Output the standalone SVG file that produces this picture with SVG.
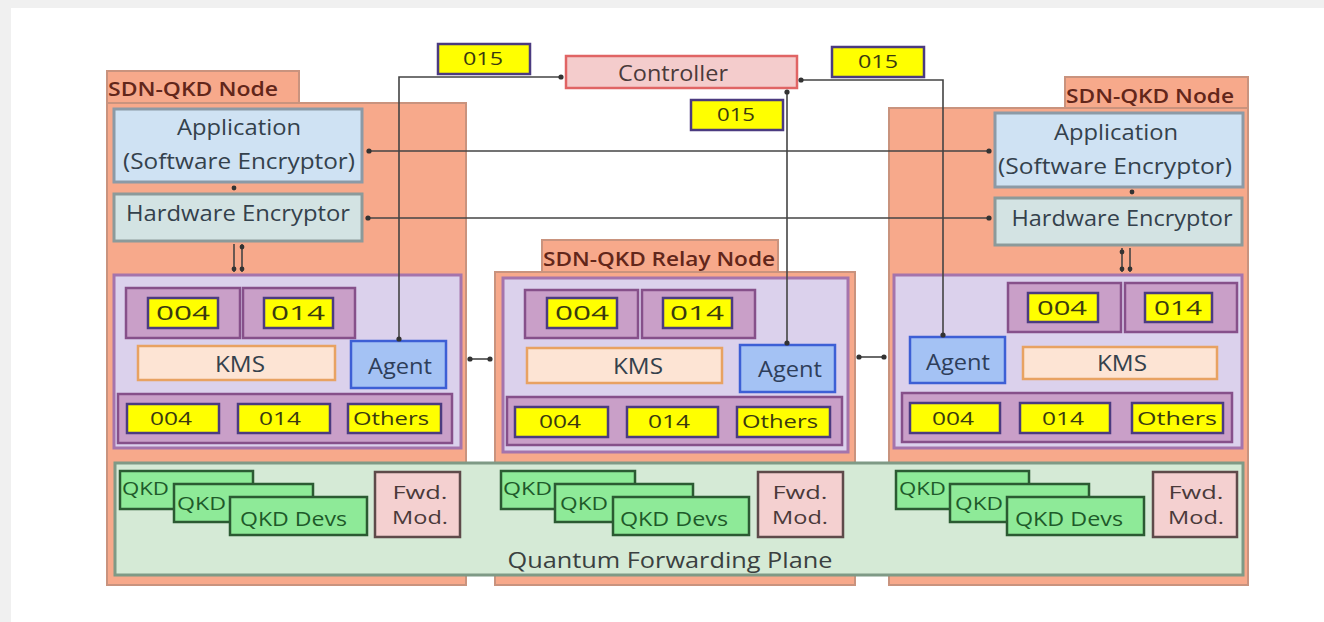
<svg xmlns="http://www.w3.org/2000/svg" width="1324" height="622" viewBox="0 0 1324 622">
  <style>
    text { font-family: "Open Sans", "Noto Sans", "DejaVu Sans", sans-serif; text-anchor: middle; dominant-baseline: central; fill: #3a3a3a; }
    .body { fill: #f7a98b; stroke: #c9937e; stroke-width: 2; }
    .tab { fill: #f7a98b; stroke: #c9937e; stroke-width: 2; }
    .tabtxt { font-size: 20px; font-weight: 600; fill: #62261a; }
    .app { fill: #cfe2f3; stroke: #8c9aa6; stroke-width: 3; }
    .hw { fill: #d3e3e3; stroke: #8c9a9a; stroke-width: 3; }
    .big { font-size: 21px; fill: #34414c; }
    .panel { fill: #dbd1ec; stroke: #a574ac; stroke-width: 3; }
    .cont { fill: #c99fc8; stroke: #86508a; stroke-width: 2.5; }
    .yel { fill: #ffff00; stroke: #4b3b80; stroke-width: 2.5; }
    .ytxt { font-size: 19px; fill: #3a3a10; }
    .ybig { font-size: 20px; fill: #3a3a10; }
    .kms { fill: #fde4d4; stroke: #e8a262; stroke-width: 2.5; }
    .agent { fill: #a4c2f4; stroke: #3d5fd5; stroke-width: 2.5; }
    .atxt { font-size: 21px; fill: #2e3e5a; }
    .ctrl { fill: #f4cccc; stroke: #e06464; stroke-width: 2.5; }
    .plane { fill: #d5ead6; stroke: #7f9a86; stroke-width: 3; }
    .qkd { fill: #8eea98; stroke: #2b5a32; stroke-width: 2.5; }
    .qtxt { font-size: 18px; fill: #1e5a2a; text-anchor: start; }
    .qdev { font-size: 20px; fill: #1e5a2a; text-anchor: start; }
    .fwd { fill: #f4d0d0; stroke: #5e4a4a; stroke-width: 2.5; }
    .ftxt { font-size: 19px; fill: #4a3a3a; }
    .ln { fill: none; stroke: #444; stroke-width: 1.6; }
    .dot { fill: #333; }
  </style>

  <!-- page -->
  <rect x="0" y="0" width="1324" height="622" fill="#f0f0f0"/>
  <rect x="11" y="8" width="1313" height="614" fill="#ffffff"/>

  <!-- left SDN-QKD node -->
  <g id="node-left">
    <rect class="body" x="107" y="103" width="359" height="482"/>
    <rect class="tab" x="107" y="71" width="192" height="32"/>
    <text class="tabtxt" x="193" y="88" textLength="170" lengthAdjust="spacingAndGlyphs">SDN-QKD Node</text>
    <rect class="app" x="114" y="109" width="248" height="73"/>
    <text class="big" x="239" y="127" textLength="124" lengthAdjust="spacingAndGlyphs">Application</text>
    <text class="big" x="239" y="161" textLength="232" lengthAdjust="spacingAndGlyphs">(Software Encryptor)</text>
    <rect class="hw" x="114" y="194" width="248" height="47"/>
    <text class="big" x="238" y="213" textLength="224" lengthAdjust="spacingAndGlyphs">Hardware Encryptor</text>
    <rect class="panel" x="114" y="275" width="347" height="173"/>
    <rect class="cont" x="126" y="288" width="114" height="50"/>
    <rect class="cont" x="243" y="288" width="112" height="50"/>
    <rect class="yel" x="148" y="298" width="70" height="30"/>
    <text class="ybig" x="183" y="312" textLength="54" lengthAdjust="spacingAndGlyphs">004</text>
    <rect class="yel" x="264" y="298" width="69" height="30"/>
    <text class="ybig" x="298" y="312" textLength="54" lengthAdjust="spacingAndGlyphs">014</text>
    <rect class="kms" x="138" y="346" width="197" height="34"/>
    <text class="big" x="240" y="364" textLength="50" lengthAdjust="spacingAndGlyphs">KMS</text>
    <rect class="agent" x="351" y="341" width="95" height="47"/>
    <text class="atxt" x="400" y="366" textLength="64" lengthAdjust="spacingAndGlyphs">Agent</text>
    <rect class="cont" x="118" y="394" width="334" height="49"/>
    <rect class="yel" x="127" y="404" width="92" height="29"/>
    <text class="ytxt" x="171" y="418" textLength="42" lengthAdjust="spacingAndGlyphs">004</text>
    <rect class="yel" x="238" y="404" width="92" height="29"/>
    <text class="ytxt" x="280" y="418" textLength="42" lengthAdjust="spacingAndGlyphs">014</text>
    <rect class="yel" x="348" y="404" width="93" height="29"/>
    <text class="ytxt" x="391" y="418" textLength="76" lengthAdjust="spacingAndGlyphs">Others</text>
  </g>

  <!-- relay node -->
  <g id="node-relay">
    <rect class="body" x="495" y="272" width="360" height="313"/>
    <rect class="tab" x="542" y="240" width="236" height="32"/>
    <text class="tabtxt" x="659" y="258" textLength="232" lengthAdjust="spacingAndGlyphs">SDN-QKD Relay Node</text>
    <rect class="panel" x="503" y="278" width="345" height="174"/>
    <rect class="cont" x="525" y="290" width="113" height="48"/>
    <rect class="cont" x="642" y="290" width="113" height="48"/>
    <rect class="yel" x="547" y="298" width="70" height="30"/>
    <text class="ybig" x="582" y="312" textLength="54" lengthAdjust="spacingAndGlyphs">004</text>
    <rect class="yel" x="663" y="298" width="69" height="30"/>
    <text class="ybig" x="697" y="312" textLength="54" lengthAdjust="spacingAndGlyphs">014</text>
    <rect class="kms" x="527" y="348" width="195" height="35"/>
    <text class="big" x="638" y="366" textLength="50" lengthAdjust="spacingAndGlyphs">KMS</text>
    <rect class="agent" x="740" y="345" width="95" height="47"/>
    <text class="atxt" x="790" y="369" textLength="64" lengthAdjust="spacingAndGlyphs">Agent</text>
    <rect class="cont" x="507" y="397" width="335" height="48"/>
    <rect class="yel" x="515" y="407" width="93" height="30"/>
    <text class="ytxt" x="560" y="421" textLength="42" lengthAdjust="spacingAndGlyphs">004</text>
    <rect class="yel" x="627" y="407" width="91" height="30"/>
    <text class="ytxt" x="669" y="421" textLength="42" lengthAdjust="spacingAndGlyphs">014</text>
    <rect class="yel" x="737" y="407" width="93" height="30"/>
    <text class="ytxt" x="780" y="421" textLength="76" lengthAdjust="spacingAndGlyphs">Others</text>
  </g>

  <!-- right SDN-QKD node -->
  <g id="node-right">
    <rect class="body" x="889" y="108" width="359" height="477"/>
    <rect class="tab" x="1065" y="77" width="183" height="31"/>
    <text class="tabtxt" x="1150" y="95" textLength="168" lengthAdjust="spacingAndGlyphs">SDN-QKD Node</text>
    <rect class="app" x="995" y="113" width="248" height="74"/>
    <text class="big" x="1116" y="132" textLength="124" lengthAdjust="spacingAndGlyphs">Application</text>
    <text class="big" x="1115" y="166" textLength="234" lengthAdjust="spacingAndGlyphs">(Software Encryptor)</text>
    <rect class="hw" x="995" y="198" width="247" height="47"/>
    <text class="big" x="1122" y="218" textLength="221" lengthAdjust="spacingAndGlyphs">Hardware Encryptor</text>
    <rect class="panel" x="894" y="275" width="348" height="173"/>
    <rect class="cont" x="1008" y="283" width="113" height="49"/>
    <rect class="cont" x="1125" y="283" width="112" height="49"/>
    <rect class="yel" x="1028" y="293" width="70" height="29"/>
    <text class="ybig" x="1062" y="307" textLength="50" lengthAdjust="spacingAndGlyphs">004</text>
    <rect class="yel" x="1145" y="293" width="67" height="29"/>
    <text class="ybig" x="1178" y="307" textLength="48" lengthAdjust="spacingAndGlyphs">014</text>
    <rect class="agent" x="910" y="337" width="95" height="46"/>
    <text class="atxt" x="958" y="362" textLength="64" lengthAdjust="spacingAndGlyphs">Agent</text>
    <rect class="kms" x="1023" y="347" width="194" height="32"/>
    <text class="big" x="1122" y="363" textLength="50" lengthAdjust="spacingAndGlyphs">KMS</text>
    <rect class="cont" x="902" y="393" width="330" height="49"/>
    <rect class="yel" x="910" y="403" width="90" height="30"/>
    <text class="ytxt" x="953" y="418" textLength="42" lengthAdjust="spacingAndGlyphs">004</text>
    <rect class="yel" x="1020" y="403" width="90" height="30"/>
    <text class="ytxt" x="1063" y="418" textLength="42" lengthAdjust="spacingAndGlyphs">014</text>
    <rect class="yel" x="1132" y="403" width="91" height="30"/>
    <text class="ytxt" x="1177" y="418" textLength="80" lengthAdjust="spacingAndGlyphs">Others</text>
  </g>

  <!-- shared quantum forwarding plane -->
  <g id="forwarding-plane">
    <rect class="plane" x="115" y="463" width="1128" height="112"/>
    <text x="670" y="559" style="font-size:22px;fill:#3a4040" textLength="325" lengthAdjust="spacingAndGlyphs">Quantum Forwarding Plane</text>

    <rect class="qkd" x="120" y="471" width="133" height="38"/>
    <text class="qtxt" x="122" y="488" textLength="47" lengthAdjust="spacingAndGlyphs">QKD</text>
    <rect class="qkd" x="174" y="484" width="139" height="38"/>
    <text class="qtxt" x="177" y="503" textLength="49" lengthAdjust="spacingAndGlyphs">QKD</text>
    <rect class="qkd" x="230" y="497" width="137" height="38"/>
    <text class="qdev" x="240" y="518" textLength="107" lengthAdjust="spacingAndGlyphs">QKD Devs</text>
    <rect class="fwd" x="375" y="472" width="85" height="65"/>
    <text class="ftxt" x="420" y="492" textLength="55" lengthAdjust="spacingAndGlyphs">Fwd.</text>
    <text class="ftxt" x="420" y="517" textLength="56" lengthAdjust="spacingAndGlyphs">Mod.</text>

    <rect class="qkd" x="501" y="471" width="134" height="38"/>
    <text class="qtxt" x="503" y="488" textLength="49" lengthAdjust="spacingAndGlyphs">QKD</text>
    <rect class="qkd" x="555" y="484" width="138" height="38"/>
    <text class="qtxt" x="560" y="503" textLength="48" lengthAdjust="spacingAndGlyphs">QKD</text>
    <rect class="qkd" x="613" y="497" width="136" height="38"/>
    <text class="qdev" x="620" y="518" textLength="108" lengthAdjust="spacingAndGlyphs">QKD Devs</text>
    <rect class="fwd" x="758" y="472" width="85" height="65"/>
    <text class="ftxt" x="800" y="492" textLength="55" lengthAdjust="spacingAndGlyphs">Fwd.</text>
    <text class="ftxt" x="800" y="517" textLength="56" lengthAdjust="spacingAndGlyphs">Mod.</text>

    <rect class="qkd" x="896" y="471" width="133" height="38"/>
    <text class="qtxt" x="899" y="488" textLength="47" lengthAdjust="spacingAndGlyphs">QKD</text>
    <rect class="qkd" x="950" y="484" width="139" height="38"/>
    <text class="qtxt" x="955" y="503" textLength="48" lengthAdjust="spacingAndGlyphs">QKD</text>
    <rect class="qkd" x="1007" y="497" width="137" height="38"/>
    <text class="qdev" x="1015" y="518" textLength="108" lengthAdjust="spacingAndGlyphs">QKD Devs</text>
    <rect class="fwd" x="1153" y="472" width="84" height="65"/>
    <text class="ftxt" x="1196" y="492" textLength="55" lengthAdjust="spacingAndGlyphs">Fwd.</text>
    <text class="ftxt" x="1196" y="517" textLength="56" lengthAdjust="spacingAndGlyphs">Mod.</text>
  </g>

  <!-- controller -->
  <g id="controller">
    <rect class="ctrl" x="566" y="56" width="231" height="32"/>
    <text x="673" y="73" style="font-size:21px;fill:#4a3a3a" textLength="110" lengthAdjust="spacingAndGlyphs">Controller</text>
  </g>

  <!-- links -->
  <g id="connectors">
    <!-- 015 links from the controller to each agent -->
    <polyline class="ln" points="560,77 399,77 399,340"/>
    <polyline class="ln" points="801,80 943,80 943,336"/>
    <line class="ln" x1="787" y1="91" x2="787" y2="344"/>
    <circle class="dot" cx="561" cy="77" r="2.6"/>
    <circle class="dot" cx="399" cy="339" r="2.6"/>
    <circle class="dot" cx="801" cy="80" r="2.6"/>
    <circle class="dot" cx="943" cy="335" r="2.6"/>
    <circle class="dot" cx="787" cy="92" r="2.6"/>
    <circle class="dot" cx="787" cy="343" r="2.6"/>

    <!-- application to application -->
    <line class="ln" x1="368" y1="151" x2="990" y2="151"/>
    <circle class="dot" cx="369" cy="151" r="2.6"/>
    <circle class="dot" cx="989" cy="151" r="2.6"/>
    <!-- hardware encryptor to hardware encryptor -->
    <line class="ln" x1="367" y1="218" x2="990" y2="218"/>
    <circle class="dot" cx="368" cy="218" r="2.6"/>
    <circle class="dot" cx="989" cy="218" r="2.6"/>

    <!-- app to hardware encryptor -->
    <circle class="dot" cx="234" cy="188" r="2.4"/>
    <circle class="dot" cx="1132" cy="192" r="2.4"/>

    <!-- hardware encryptor to KMS -->
    <line class="ln" x1="234" y1="244" x2="234" y2="272"/>
    <line class="ln" x1="242" y1="244" x2="242" y2="272"/>
    <circle class="dot" cx="242" cy="247" r="2.4"/>
    <circle class="dot" cx="234" cy="269" r="2.4"/>
    <circle class="dot" cx="242" cy="269" r="2.4"/>
    <line class="ln" x1="1122" y1="248" x2="1122" y2="272"/>
    <line class="ln" x1="1130" y1="248" x2="1130" y2="272"/>
    <circle class="dot" cx="1122" cy="252" r="2.4"/>
    <circle class="dot" cx="1122" cy="269" r="2.4"/>
    <circle class="dot" cx="1130" cy="269" r="2.4"/>

    <!-- KMS to KMS -->
    <line class="ln" x1="468" y1="359" x2="492" y2="359"/>
    <circle class="dot" cx="470" cy="359" r="2.6"/>
    <circle class="dot" cx="490" cy="359" r="2.6"/>
    <line class="ln" x1="857" y1="357" x2="886" y2="357"/>
    <circle class="dot" cx="859" cy="357" r="2.6"/>
    <circle class="dot" cx="884" cy="357" r="2.6"/>
  </g>

  <!-- 015 interface labels -->
  <g id="label-015-left">
    <rect class="yel" x="438" y="44" width="92" height="30"/>
    <text class="ytxt" x="483" y="58" textLength="40" lengthAdjust="spacingAndGlyphs">015</text>
  </g>
  <g id="label-015-right">
    <rect class="yel" x="832" y="47" width="92" height="30"/>
    <text class="ytxt" x="878" y="61" textLength="40" lengthAdjust="spacingAndGlyphs">015</text>
  </g>
  <g id="label-015-mid">
    <rect class="yel" x="691" y="100" width="92" height="30"/>
    <text class="ytxt" x="736" y="114" textLength="38" lengthAdjust="spacingAndGlyphs">015</text>
  </g>
</svg>
